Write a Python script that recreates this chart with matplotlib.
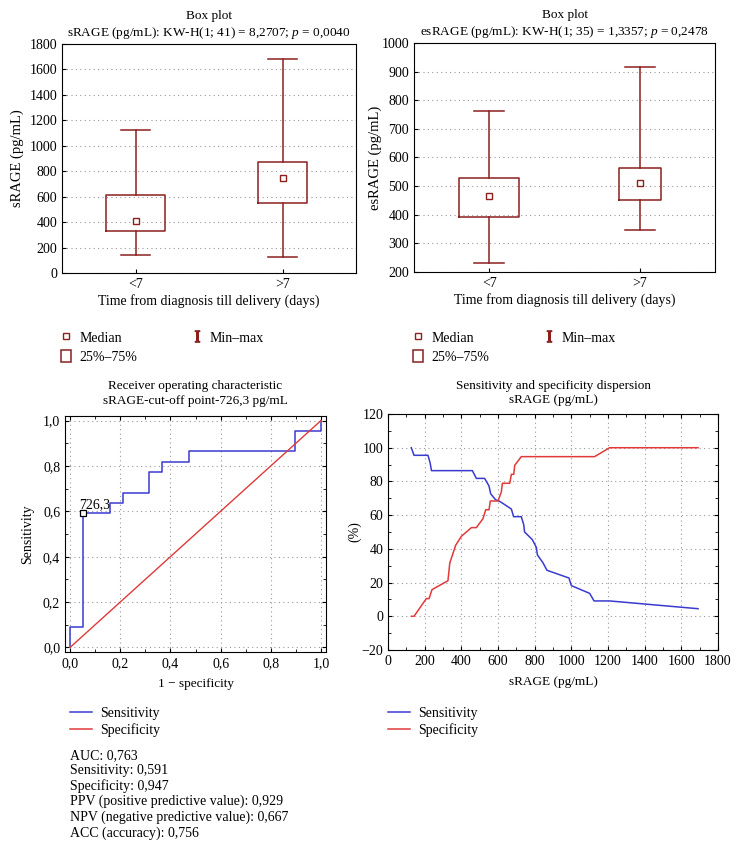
import numpy as np
import matplotlib
matplotlib.use("Agg")
import matplotlib.pyplot as plt
from matplotlib.lines import Line2D
from matplotlib.patches import Rectangle
from matplotlib.ticker import MultipleLocator

plt.rcParams['font.family'] = ['Liberation Serif', 'DejaVu Serif']
plt.rcParams['mathtext.fontset'] = 'custom'
plt.rcParams['mathtext.rm'] = 'Liberation Serif'
plt.rcParams['mathtext.it'] = 'Liberation Serif:italic'
plt.rcParams['font.size'] = 9.5

# box plot data (min, q1, median, q3, max)
groups = ['<7', '>7']
srage_stats = [(140, 330, 405, 615, 1125), (125, 550, 745, 870, 1685)]
esrage_stats = [(230, 392, 465, 527, 763), (345, 450, 510, 562, 917)]
srage_widths = [0.40, 0.34]
esrage_widths = [0.40, 0.28]

# ROC curve path
roc_fpr = [0, 0, 0.0526, 0.0526, 0.158, 0.158, 0.211, 0.211, 0.316, 0.316,
           0.368, 0.368, 0.474, 0.474, 0.895, 0.895, 1.0, 1.0]
roc_tpr = [0, 0.091, 0.091, 0.591, 0.591, 0.636, 0.636, 0.682, 0.682, 0.773,
           0.773, 0.818, 0.818, 0.864, 0.864, 0.955, 0.955, 1.0]
cutoff_fpr, cutoff_tpr = 0.0526, 0.591

# sensitivity / specificity vs cut-off
sens_x = [127, 142, 218, 230, 237, 460, 482, 527, 551, 560, 587, 609, 640, 673,
          685, 727, 740, 745, 787, 809, 815, 845, 867, 987, 1000, 1100, 1124,
          1209, 1691]
sens_y = [100, 95.5, 95.5, 90.9, 86.4, 86.4, 81.8, 81.8, 77.3, 72.7, 69.1, 68.2,
          66.0, 63.6, 59.1, 59.1, 54.5, 50.0, 45.5, 40.9, 36.4, 31.8, 27.3, 22.7,
          18.2, 13.6, 9.1, 9.1, 4.5]
spec_x = [128, 142, 209, 224, 240, 327, 337, 369, 400, 455, 482, 518, 533, 551,
          558, 600, 618, 624, 664, 673, 686, 691, 727, 1127, 1209, 1691]
spec_y = [0, 0, 10.5, 10.5, 15.8, 21.1, 31.6, 42.1, 47.4, 52.6, 52.6, 57.9, 63.2,
          63.2, 68.4, 68.4, 73.7, 78.9, 78.9, 84.2, 84.2, 89.5, 94.7, 94.7, 100, 100]

stats_lines = ["AUC: 0,763", "Sensitivity: 0,591", "Specificity: 0,947",
               "PPV (positive predictive value): 0,929",
               "NPV (negative predictive value): 0,667",
               "ACC (accuracy): 0,756"]

box_col = '#8c1f1f'
blue = '#3a3ad0'
red = '#e03a3a'
grid_kw = dict(color='#9a9a9a', linestyle=(0, (1, 3)), linewidth=0.8)

W, H = 740, 847
fig = plt.figure(figsize=(W / 100, H / 100), dpi=100)


def ax_at(l, t, r, b):
    return fig.add_axes([l / W, 1 - b / H, (r - l) / W, (b - t) / H])


def box_panel(ax, stats, widths, title, ylabel, ylim, ystep, ylpad):
    bx = [dict(whislo=s[0], q1=s[1], med=s[2], q3=s[3], whishi=s[4], fliers=[])
          for s in stats]
    ax.bxp(bx, positions=[1, 2], widths=widths, showfliers=False,
           boxprops=dict(color=box_col, linewidth=1.1),
           whiskerprops=dict(color=box_col, linewidth=1.1),
           capprops=dict(color=box_col, linewidth=1.1),
           medianprops=dict(linewidth=0), capwidths=[0.2, 0.2])
    ax.plot([1, 2], [s[2] for s in stats], 's', ms=4, mfc='white',
            mec=box_col, mew=1.0, ls='none')
    ax.set_xlim(0.5, 2.5)
    ax.set_ylim(*ylim)
    ax.set_xticks([1, 2])
    ax.set_xticklabels(groups)
    ax.yaxis.set_major_locator(MultipleLocator(ystep))
    ax.grid(axis='y', **grid_kw)
    ax.set_title(title, fontsize=9.5, pad=6, linespacing=1.25)
    ax.set_ylabel(ylabel, fontsize=10.5, labelpad=ylpad)
    ax.set_xlabel("Time from diagnosis till delivery (days)", fontsize=10,
                  labelpad=2)
    ax.tick_params(direction='in', length=3, labelsize=10)


ax1 = ax_at(62, 44, 356, 273)
box_panel(ax1, srage_stats, srage_widths,
          "Box plot\nsRAGE (pg/mL): KW-H(1; 41) = 8,2707; $p$ = 0,0040",
          "sRAGE (pg/mL)", (0, 1800), 200, 4)
ax2 = ax_at(414, 43, 715, 272)
box_panel(ax2, esrage_stats, esrage_widths,
          "Box plot\nesRAGE (pg/mL): KW-H(1; 35) = 1,3357; $p$ = 0,2478",
          "esRAGE (pg/mL)", (200, 1000), 100, 0)

# legends for box plots
for x0 in (61, 413):
    hdl = [Line2D([], [], marker='s', ms=5, mfc='white', mec=box_col, ls='none'),
           Rectangle((0, 0), 1, 1, fc='white', ec=box_col, lw=1.1),
           Line2D([], [], marker='$\\mathrm{I}$', ms=8, color=box_col, ls='none')]
    fig.legend(hdl, ['Median', '25%\u201375%', 'Min\u2013max'], ncol=2,
               loc='upper left', bbox_to_anchor=(x0 / W, 1 - 331 / H),
               frameon=False, borderpad=0, borderaxespad=0,
               handlelength=0.75, handleheight=0.95, columnspacing=3.9,
               labelspacing=0.4, handletextpad=0.58, fontsize=10)

# ROC
ax3 = ax_at(65, 416, 326, 652)
ax3.plot(roc_fpr, roc_tpr, color=blue, lw=1.1)
ax3.plot([0, 1], [0, 1], color=red, lw=1.0)
ax3.plot([cutoff_fpr], [cutoff_tpr], 's', ms=4, mfc='white', mec='black', mew=0.9)
ax3.annotate("726,3", (cutoff_fpr, cutoff_tpr), xytext=(-3, 4),
             textcoords='offset points', fontsize=10)
ax3.set_xlim(-0.02, 1.02)
ax3.set_ylim(-0.02, 1.02)
roc_ticks = [0, 0.2, 0.4, 0.6, 0.8, 1.0]
roc_labels = ['0,0', '0,2', '0,4', '0,6', '0,8', '1,0']
ax3.set_xticks(roc_ticks)
ax3.set_xticklabels(roc_labels)
ax3.set_yticks(roc_ticks)
ax3.set_yticklabels(roc_labels)
ax3.xaxis.set_minor_locator(MultipleLocator(0.1))
ax3.yaxis.set_minor_locator(MultipleLocator(0.1))
ax3.grid(which='major', **grid_kw)
ax3.tick_params(which='both', direction='in', top=True, right=True, labelsize=10)
ax3.tick_params(which='major', length=3)
ax3.tick_params(which='minor', length=2)
ax3.set_title("Receiver operating characteristic\nsRAGE-cut-off point-726,3 pg/mL",
              fontsize=9.5, pad=9, linespacing=1.25)
ax3.set_xlabel("1 \u2212 specificity", labelpad=6)
ax3.set_ylabel("Sensitivity", fontsize=10, labelpad=6)

# sensitivity and specificity dispersion
ax4 = ax_at(388, 414, 718, 650)
ax4.plot(sens_x, sens_y, color=blue, lw=1.1)
ax4.plot(spec_x, spec_y, color=red, lw=1.1)
ax4.set_xlim(0, 1800)
ax4.set_ylim(-20, 120)
ax4.xaxis.set_major_locator(MultipleLocator(200))
ax4.yaxis.set_major_locator(MultipleLocator(20))
ax4.xaxis.set_minor_locator(MultipleLocator(100))
ax4.yaxis.set_minor_locator(MultipleLocator(10))
ax4.grid(which='major', **grid_kw)
ax4.tick_params(which='both', direction='in', top=True, right=True, labelsize=10)
ax4.tick_params(which='major', length=3)
ax4.tick_params(which='minor', length=2)
ax4.set_title("Sensitivity and specificity dispersion\nsRAGE (pg/mL)",
              fontsize=9.5, pad=8, linespacing=1.25)
ax4.set_xlabel("sRAGE (pg/mL)", labelpad=6)
ax4.set_ylabel("(%)", fontsize=10, labelpad=0)

line_hdl = [Line2D([], [], color=blue, lw=1.1), Line2D([], [], color=red, lw=1.1)]
for x0 in (70, 388):
    fig.legend(line_hdl, ['Sensitivity', 'Specificity'], loc='upper left',
               bbox_to_anchor=(x0 / W, 1 - 707 / H), frameon=False,
               borderpad=0, borderaxespad=0,
               handlelength=1.6, labelspacing=0.2, handletextpad=0.6, fontsize=10)

fig.text(70 / W, 1 - 749 / H, "\n".join(stats_lines), va='top', ha='left',
         fontsize=10, linespacing=1.2)

fig.savefig("out.png", dpi=100)
